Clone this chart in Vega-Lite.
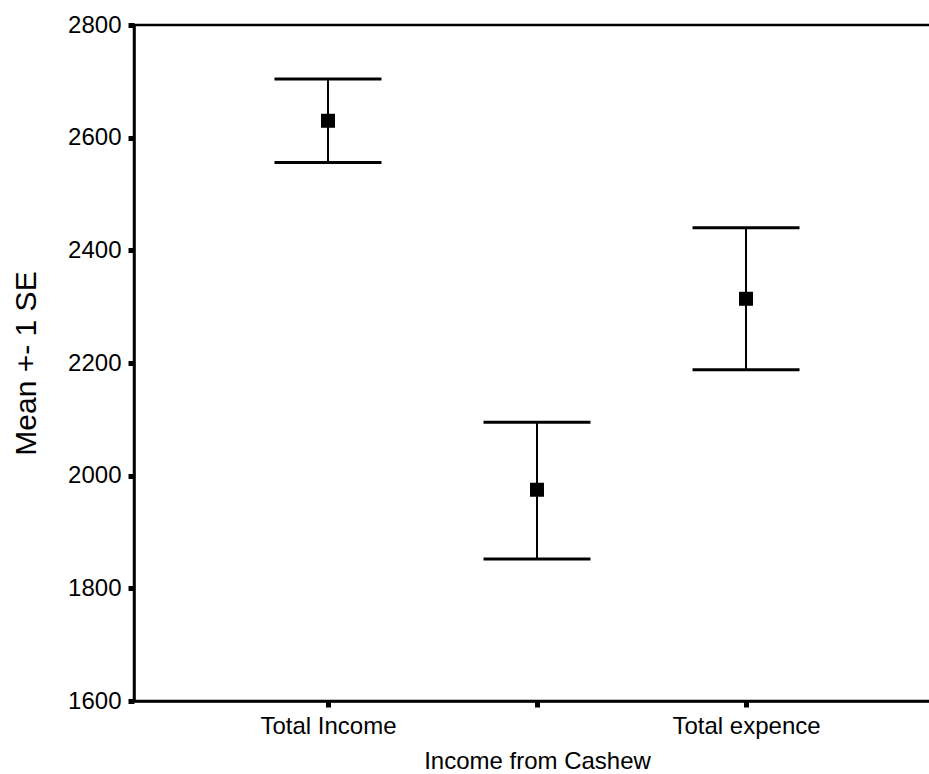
{
  "$schema": "https://vega.github.io/schema/vega-lite/v6.json",
  "autosize": {"type": "none"},
  "padding": {"left": 134, "top": 25, "right": 0, "bottom": 73},
  "width": 806,
  "height": 676,
  "background": "white",
  "config": {
    "view": {"stroke": "black", "strokeWidth": 2.5},
    "font": "Liberation Sans"
  },
  "data": {
    "values": [
      {"variable": "Total Income", "order": 1, "mean": 2630, "lower": 2556, "upper": 2704},
      {"variable": "Income from Cashew", "order": 2, "mean": 1975, "lower": 1852, "upper": 2095},
      {"variable": "Total expence", "order": 3, "mean": 2314, "lower": 2188, "upper": 2440}
    ]
  },
  "encoding": {
    "x": {
      "field": "variable",
      "type": "nominal",
      "sort": {"field": "order"},
      "scale": {"type": "point", "padding": 0.928},
      "axis": {
        "title": null,
        "domainColor": "black",
        "domainWidth": 2.5,
        "ticks": true,
        "tickColor": "black",
        "tickSize": 6,
        "tickWidth": 5,
        "labelAngle": 0,
        "labelFontSize": 24,
        "labelColor": "black",
        "labelFont": "Liberation Sans",
        "labelLimit": 0,
        "labelPadding": {"condition": {"test": "datum.value === 'Income from Cashew'", "value": 42}, "value": 7},
        "labelOverlap": false
      }
    }
  },
  "layer": [
    {
      "mark": {"type": "rule", "color": "black", "strokeWidth": 2},
      "encoding": {
        "y": {
          "field": "lower",
          "type": "quantitative",
          "scale": {"domain": [1600, 2800], "nice": false, "zero": false},
          "axis": {
            "title": "Mean +- 1 SE",
            "values": [1600, 1800, 2000, 2200, 2400, 2600, 2800],
            "format": "d",
            "grid": false,
            "domainColor": "black",
            "domainWidth": 2.5,
            "ticks": true,
            "tickColor": "black",
            "tickSize": 6,
            "tickWidth": 5,
            "labelFontSize": 24,
            "labelColor": "black",
            "labelPadding": 7,
            "titleFontSize": 30,
            "titleFontWeight": "normal",
            "titleColor": "black",
            "titlePadding": 26
          }
        },
        "y2": {"field": "upper"}
      }
    },
    {
      "mark": {"type": "tick", "color": "black", "opacity": 1, "size": 107, "thickness": 3},
      "encoding": {"y": {"field": "lower", "type": "quantitative"}}
    },
    {
      "mark": {"type": "tick", "color": "black", "opacity": 1, "size": 107, "thickness": 3},
      "encoding": {"y": {"field": "upper", "type": "quantitative"}}
    },
    {
      "mark": {"type": "square", "color": "black", "filled": true, "opacity": 1, "size": 196},
      "encoding": {"y": {"field": "mean", "type": "quantitative"}}
    }
  ]
}
